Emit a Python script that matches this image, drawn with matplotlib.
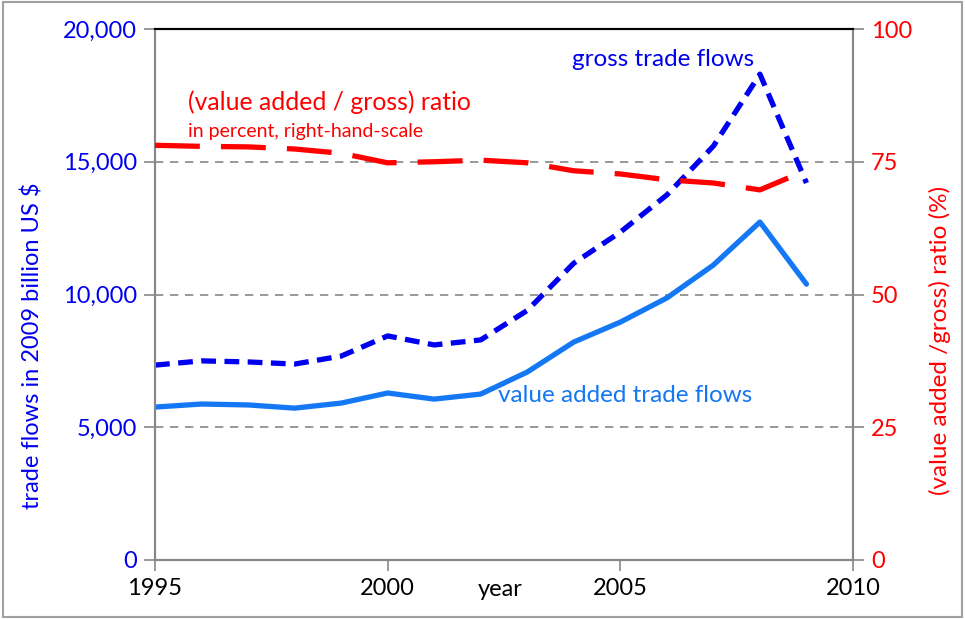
import matplotlib.pyplot as plt
from matplotlib.patches import Rectangle

years = list(range(1995, 2010))
gross = [7340, 7500, 7460, 7380, 7680, 8440, 8100, 8290, 9400, 11180,
         12350, 13750, 15590, 18300, 14200]
value_added = [5760, 5875, 5840, 5720, 5910, 6290, 6060, 6250, 7080, 8210,
               8960, 9870, 11110, 12730, 10390]
ratio = [78.1, 77.9, 77.8, 77.4, 76.6, 74.8, 75.0, 75.3, 74.8, 73.3,
         72.7, 71.6, 71.0, 69.7, 73.4]

left_ticks = [0, 5000, 10000, 15000, 20000]
left_labels = ["0", "5,000", "10,000", "15,000", "20,000"]
right_ticks = [0, 25, 50, 75, 100]
x_ticks = [1995, 2000, 2005, 2010]

plt.rcParams["font.family"] = ["Lato", "DejaVu Sans"]

blue = "#0000F0"
light_blue = "#1478F5"
red = "#FF0000"
grey = "#878787"

fig = plt.figure(figsize=(9.65, 6.19), dpi=100)
fig.patches.append(Rectangle((0.003, 0.003), 0.994, 0.994, transform=fig.transFigure,
                             fill=False, edgecolor="#a0a0a0", linewidth=1.5))

ax = fig.add_axes([155 / 965, 1 - 560 / 619, (853 - 155) / 965, (560 - 29) / 619])
ax2 = ax.twinx()

for y in [5000, 10000, 15000]:
    ax.axhline(y, color=grey, linewidth=1.2, dashes=(5, 4), zorder=1)

ax.plot(years, value_added, color=light_blue, linewidth=3.8, solid_capstyle="round",
        solid_joinstyle="round", zorder=3)
ax.plot(years, gross, color=blue, linewidth=3.8, dashes=(2.8, 1.6), zorder=3)
ax2.plot(years, ratio, color=red, linewidth=3.8, dashes=(8.5, 4), zorder=3)

ax.set_xlim(1995, 2010)
ax.set_ylim(0, 20000)
ax2.set_ylim(0, 100)

ax.set_xticks(x_ticks)
ax.set_xticklabels([str(x) for x in x_ticks], fontsize=17, color="black")
ax.set_yticks(left_ticks)
ax.set_yticklabels(left_labels, fontsize=17, color=blue)
ax2.set_yticks(right_ticks)
ax2.set_yticklabels([str(t) for t in right_ticks], fontsize=17, color=red)

for a in (ax, ax2):
    for s in ("left", "right", "bottom"):
        a.spines[s].set_color(grey)
        a.spines[s].set_linewidth(1.5)
    a.spines["top"].set_color("black")
    a.spines["top"].set_linewidth(1.5)
ax.tick_params(axis="both", direction="out", length=8, width=1.2, color=grey, pad=5)
ax2.tick_params(axis="y", direction="out", length=8, width=1.2, color=grey, pad=5)

fig.text(33 / 965, 1 - 346 / 619, "trade flows in 2009 billion US $", rotation=90,
         color=blue, fontsize=17, ha="center", va="center")
fig.text(940 / 965, 1 - 340 / 619, "(value added /gross) ratio (%)", rotation=90,
         color=red, fontsize=17.5, ha="center", va="center")
fig.text(500 / 965, 1 - 590 / 619, "year", color="black", fontsize=17,
         ha="center", va="center")

fig.text(188 / 965, 1 - 102 / 619, "(value added / gross) ratio", color=red,
         fontsize=17.8, ha="left", va="center")
fig.text(188 / 965, 1 - 131 / 619, "in percent, right-hand-scale", color=red,
         fontsize=14, ha="left", va="center")
fig.text(572 / 965, 1 - 60 / 619, "gross trade flows", color=blue,
         fontsize=17.5, ha="left", va="center")
fig.text(498 / 965, 1 - 396 / 619, "value added trade flows", color=light_blue,
         fontsize=17.5, ha="left", va="center")

fig.savefig("out.png", dpi=100)
